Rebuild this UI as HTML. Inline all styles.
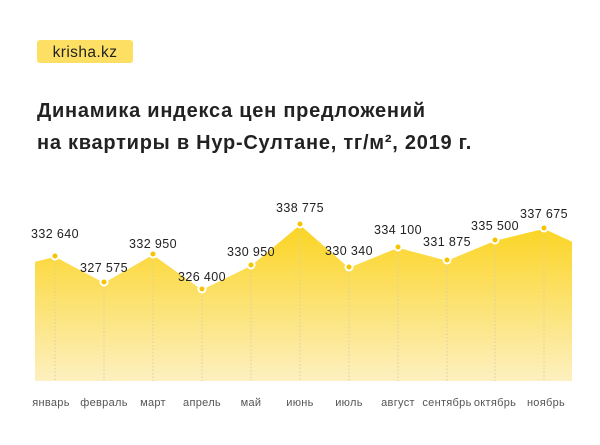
<!DOCTYPE html>
<html><head><meta charset="utf-8"><style>
body{margin:0;background:#fff;width:600px;height:445px;overflow:hidden;font-family:"Liberation Sans","DejaVu Sans",sans-serif}
</style></head><body>
<svg width="600" height="445" viewBox="0 0 600 445" xmlns="http://www.w3.org/2000/svg" style="display:block">
<defs>
<linearGradient id="g" gradientUnits="userSpaceOnUse" x1="0" y1="220" x2="0" y2="381">
<stop offset="0" stop-color="#fbd31c"/><stop offset="1" stop-color="#fdf0c0"/></linearGradient>
</defs>
<rect x="37" y="40" width="96" height="23" rx="3" fill="#fde063"/>
<text x="85" y="57" text-anchor="middle" font-size="15.5" letter-spacing="0.4" fill="#222">krisha.kz</text>
<text x="37" y="117" font-size="20" font-weight="bold" letter-spacing="0.75" fill="#222">Динамика индекса цен предложений</text>
<text x="37" y="149" font-size="20" font-weight="bold" letter-spacing="0.75" fill="#222">на квартиры в Нур-Султане, тг/м², 2019 г.</text>
<polygon fill="url(#g)" points="35,261 55,256 104,282 153,254 202,289 251,265 300,224 349,267 398,247 447,260 495,240 544,228 572,241 572,381 35,381"/>
<g stroke="#d8cfa8" stroke-dasharray="1.5,2" stroke-width="1">
<line x1="55" y1="256" x2="55" y2="381"/><line x1="104" y1="282" x2="104" y2="381"/><line x1="153" y1="254" x2="153" y2="381"/><line x1="202" y1="289" x2="202" y2="381"/><line x1="251" y1="265" x2="251" y2="381"/><line x1="300" y1="224" x2="300" y2="381"/><line x1="349" y1="267" x2="349" y2="381"/><line x1="398" y1="247" x2="398" y2="381"/><line x1="447" y1="260" x2="447" y2="381"/><line x1="495" y1="240" x2="495" y2="381"/><line x1="544" y1="228" x2="544" y2="381"/>
</g>
<polyline fill="none" stroke="#fff" stroke-width="1.5" points="35,261 55,256 104,282 153,254 202,289 251,265 300,224 349,267 398,247 447,260 495,240 544,228 572,241"/>
<g fill="#f5c400" stroke="#fff" stroke-width="2">
<circle cx="55" cy="256" r="3.5"/><circle cx="104" cy="282" r="3.5"/><circle cx="153" cy="254" r="3.5"/><circle cx="202" cy="289" r="3.5"/><circle cx="251" cy="265" r="3.5"/><circle cx="300" cy="224" r="3.5"/><circle cx="349" cy="267" r="3.5"/><circle cx="398" cy="247" r="3.5"/><circle cx="447" cy="260" r="3.5"/><circle cx="495" cy="240" r="3.5"/><circle cx="544" cy="228" r="3.5"/>
</g>
<g font-size="12.5" letter-spacing="0.4" fill="#222" text-anchor="middle">
<text x="55" y="238">332 640</text><text x="104" y="272">327 575</text><text x="153" y="248">332 950</text><text x="202" y="281">326 400</text><text x="251" y="256">330 950</text><text x="300" y="212">338 775</text><text x="349" y="255">330 340</text><text x="398" y="234">334 100</text><text x="447" y="246">331 875</text><text x="495" y="230">335 500</text><text x="544" y="218">337 675</text>
</g>
<g font-size="11" letter-spacing="0.3" fill="#555" text-anchor="middle">
<text x="51" y="406">январь</text><text x="104" y="406">февраль</text><text x="153" y="406">март</text><text x="202" y="406">апрель</text><text x="251" y="406">май</text><text x="300" y="406">июнь</text><text x="349" y="406">июль</text><text x="398" y="406">август</text><text x="447" y="406">сентябрь</text><text x="495" y="406">октябрь</text><text x="546" y="406">ноябрь</text>
</g>
</svg>
</body></html>
